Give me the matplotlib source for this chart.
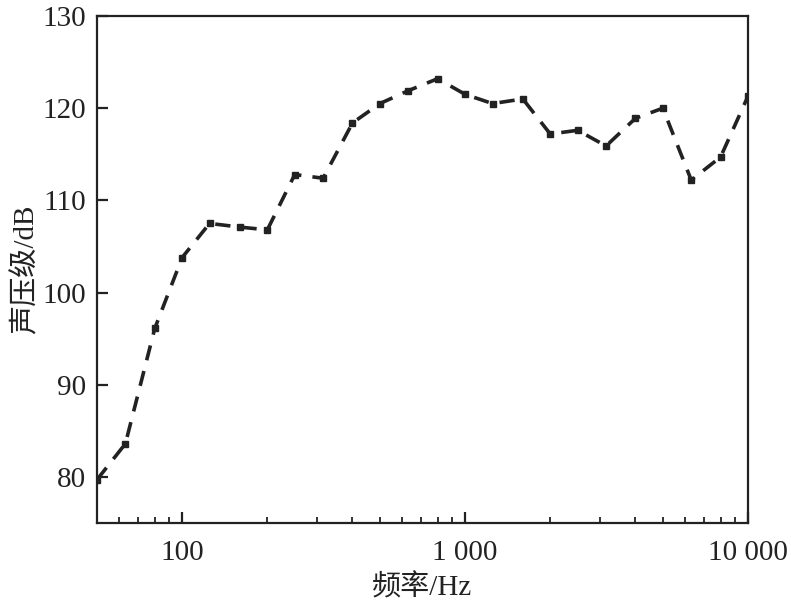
import matplotlib
matplotlib.use("Agg")
import matplotlib.pyplot as plt
from matplotlib.ticker import FixedLocator, FuncFormatter, LogLocator, NullFormatter

plt.rcParams['font.family'] = ['Liberation Serif', 'Noto Sans CJK SC']
plt.rcParams['lines.scale_dashes'] = False

freqs = [50, 63, 80, 100, 125, 160, 200, 250, 315, 400, 500, 630, 800,
         1000, 1250, 1600, 2000, 2500, 3150, 4000, 5000, 6300, 8000, 10000]
spl = [79.7, 83.6, 96.1, 103.8, 107.5, 107.1, 106.8, 112.8, 112.4, 118.4,
       120.5, 121.9, 123.2, 121.5, 120.5, 121.0, 117.2, 117.6, 115.9, 118.9,
       120.0, 112.2, 114.7, 121.3]
xticks = [100, 1000, 10000]
xticklabels = ['100', '1 000', '10 000']
yticks = [80, 90, 100, 110, 120, 130]

fig = plt.figure(figsize=(7.91, 6.11), dpi=100)
ax = fig.add_axes([97/791, 1-523/611, (748-97)/791, (523-16)/611])

ax.plot(freqs, spl, color='#222222', lw=2.6, dashes=(11, 8),
        marker='s', ms=5, mfc='#222222', mec='#222222', clip_on=True)

ax.set_xscale('log')
ax.set_xlim(50, 10000)
ax.set_ylim(75, 130)
ax.xaxis.set_major_locator(FixedLocator(xticks))
ax.xaxis.set_major_formatter(FuncFormatter(lambda v, p: xticklabels[xticks.index(round(v))] if round(v) in xticks else ''))
ax.xaxis.set_minor_locator(LogLocator(base=10, subs=range(2, 10)))
ax.xaxis.set_minor_formatter(NullFormatter())
ax.set_yticks(yticks)

for s in ['top', 'right', 'left', 'bottom']:
    ax.spines[s].set_linewidth(1.6)
    ax.spines[s].set_color('#222222')

ax.tick_params(axis='both', which='major', direction='in', length=8, width=1.6,
               labelsize=21, colors='#222222')
ax.tick_params(axis='x', which='minor', direction='in', length=4, width=1.3, colors='#222222')
ax.tick_params(axis='y', which='major', pad=8)
ax.tick_params(axis='x', which='major', pad=12)
for lbl in ax.get_xticklabels() + ax.get_yticklabels():
    lbl.set_color('#222222')

ax.set_xlabel('频率/Hz', fontsize=21, color='#222222', labelpad=6)
ax.set_ylabel('声压级/dB', fontsize=21, color='#222222', labelpad=2)

fig.savefig('out.png', dpi=100)
